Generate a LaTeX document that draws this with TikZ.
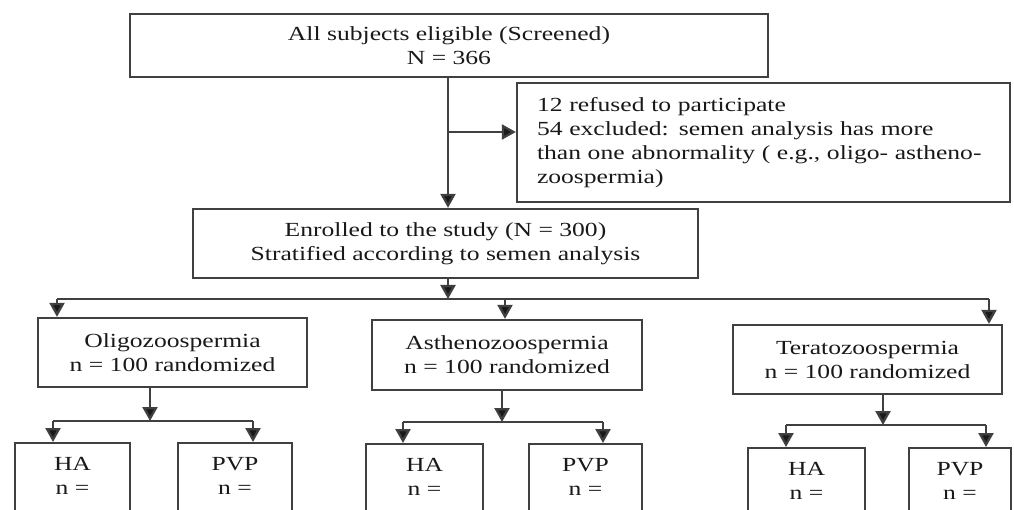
\documentclass[tikz,border=0pt]{standalone}
\usepackage{fontspec}
\setmainfont{Liberation Serif}[FakeStretch=1.28]
\usetikzlibrary{arrows.meta}
\begin{document}
\begin{tikzpicture}[x=1pt,y=-1pt,
  font=\fontsize{20}{24}\selectfont,
  box/.style={draw=black!75, line width=2.3pt, text=black!90, align=center, inner sep=0pt},
  bot/.style={box, anchor=north, inner ysep=14pt},
  ln/.style={draw=black!75, line width=2.3pt},
  arr/.style={ln, -{Triangle[length=14pt,width=15pt,fill=black!90]}}]
\useasboundingbox (0,0) rectangle (1014,510);
\clip (0,0) rectangle (1014,510);
\fill[white] (0,0) rectangle (1014,510);

\node[box, minimum width=638pt, minimum height=63pt] (top) at (449,45.5)
  {All subjects eligible (Screened)\\N = 366};
\node[box, minimum width=493pt, minimum height=119pt, text width=453pt, align=left, inner xsep=20pt] (excl) at (763.5,142.5)
  {12 refused to participate\\54 excluded: semen analysis has more\\than one abnormality ( e.g., oligo- astheno-\\zoospermia)};
\node[box, minimum width=505pt, minimum height=69pt] (enr) at (445.5,243.5)
  {Enrolled to the study (N = 300)\\Stratified according to semen analysis};
\node[box, minimum width=269pt, minimum height=69pt] (oli) at (172.5,352.5)
  {Oligozoospermia\\n = 100 randomized};
\node[box, minimum width=270pt, minimum height=70pt] (ast) at (507,355)
  {Asthenozoospermia\\n = 100 randomized};
\node[box, minimum width=269pt, minimum height=69pt] (ter) at (867.5,359.5)
  {Teratozoospermia\\n = 100 randomized};

\node[bot, minimum width=115pt] (ha1) at (72.5,442) {HA\\n =\\\strut\\\strut};
\node[bot, minimum width=114pt] (pv1) at (235,442) {PVP\\n =\\\strut\\\strut};
\node[bot, minimum width=117pt] (ha2) at (424.5,443) {HA\\n =\\\strut\\\strut};
\node[bot, minimum width=113pt] (pv2) at (585.5,443) {PVP\\n =\\\strut\\\strut};
\node[bot, minimum width=117pt] (ha3) at (806.5,447) {HA\\n =\\\strut\\\strut};
\node[bot, minimum width=102pt] (pv3) at (960,447) {PVP\\n =\\\strut\\\strut};

% top part
\coordinate (b1) at (448,132);
\draw[arr] (top.south -| b1) -- (enr.north -| b1);
\draw[arr] (b1) -- (b1 -| excl.west);

% distribution bus
\coordinate (bus) at (0,299);
\coordinate (bL) at (57,299);
\coordinate (bM) at (505,299);
\coordinate (bR) at (989,299);
\draw[arr] (enr.south -| b1) -- (bus -| b1);
\draw[ln] (bL) -- (bR);
\draw[arr] (bL) -- (bL |- oli.north);
\draw[arr] (bM) -- (bM |- ast.north);
\draw[arr] (bR) -- (bR |- ter.north);

% oligo subtree
\coordinate (s1) at (150,421);
\coordinate (s1L) at (53,421);
\coordinate (s1R) at (253,421);
\draw[arr] (oli.south -| s1) -- (s1);
\draw[ln] (s1L) -- (s1R);
\draw[arr] (s1L) -- (s1L |- ha1.north);
\draw[arr] (s1R) -- (s1R |- pv1.north);

% astheno subtree
\coordinate (s2) at (502,422);
\coordinate (s2L) at (403,422);
\coordinate (s2R) at (603,422);
\draw[arr] (ast.south -| s2) -- (s2);
\draw[ln] (s2L) -- (s2R);
\draw[arr] (s2L) -- (s2L |- ha2.north);
\draw[arr] (s2R) -- (s2R |- pv2.north);

% terato subtree
\coordinate (s3) at (883,425);
\coordinate (s3L) at (786,425);
\coordinate (s3R) at (986,425);
\draw[arr] (ter.south -| s3) -- (s3);
\draw[ln] (s3L) -- (s3R);
\draw[arr] (s3L) -- (s3L |- ha3.north);
\draw[arr] (s3R) -- (s3R |- pv3.north);
\end{tikzpicture}
\end{document}
